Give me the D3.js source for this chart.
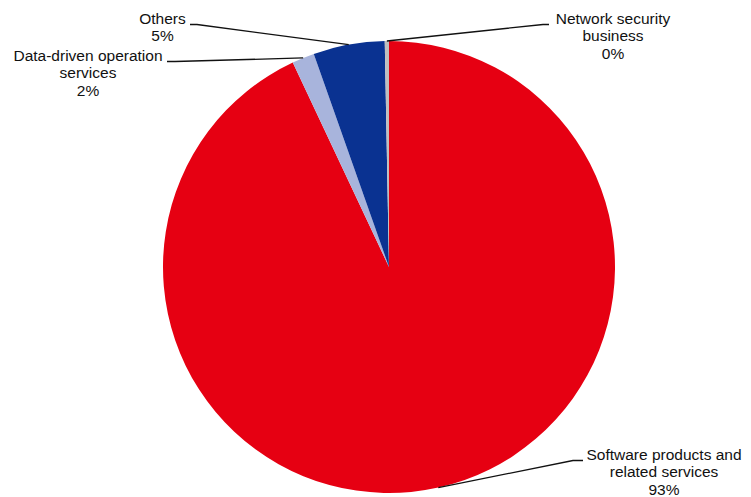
<!DOCTYPE html>
<html>
<head>
<meta charset="utf-8">
<script src="https://cdn.jsdelivr.net/npm/d3@7"></script>
<style>
  html, body { margin: 0; padding: 0; background: #fff; }
  svg { display: block; }
  text { font-family: "Liberation Sans", Arial, sans-serif; font-size: 15.5px; fill: #111; }
</style>
</head>
<body>
<svg id="chart" width="751" height="497"></svg>
<script>
// ---- data ----
const categories = ["Software products and related services", "Data-driven operation services", "Others", "Network security business"];
const values = [93.0, 1.6, 5.1, 0.3];
const labelLines = [
  ["Software products and", "related services"],
  ["Data-driven operation", "services"],
  ["Others"],
  ["Network security", "business"]
];
const colors = ["#E60012", "#A8B4DC", "#0A3291", "#BFBFBF"];

// ---- layout ----
const W = 751, H = 497;
const cx = 389, cy = 267, R = 226;
const lineH = 17.4;
// label anchor (text center x, first baseline y) and leader-line elbow
const labelLayout = [
  { x: 664, y: 460, lx: 583, elbow: 573 },
  { x: 88,  y: 61,  lx: 167, elbow: 175 },
  { x: 162.5, y: 24, lx: 190, elbow: 197 },
  { x: 613, y: 24,  lx: 549, elbow: 543 }
];

const svg = d3.select("#chart");
const total = d3.sum(values);
const fmt = d3.format(".0%");

const data = categories.map((c, i) => ({ name: c, value: values[i], lines: labelLines[i], color: colors[i], i }));
const pie = d3.pie().sort(null).value(d => d.value);
const arcs = pie(data);
const arc = d3.arc().innerRadius(0).outerRadius(R);

const g = svg.append("g").attr("transform", `translate(${cx},${cy})`);
g.selectAll("path.slice").data(arcs).join("path")
  .attr("class", "slice")
  .attr("d", arc)
  .attr("fill", d => d.data.color);

// leader lines
const edgePoint = d => {
  const a = (d.startAngle + d.endAngle) / 2;
  return [cx + R * Math.sin(a), cy - R * Math.cos(a)];
};
svg.selectAll("polyline.leader").data(arcs).join("polyline")
  .attr("class", "leader")
  .attr("fill", "none")
  .attr("stroke", "#111")
  .attr("stroke-width", 1.3)
  .attr("points", d => {
    const L = labelLayout[d.data.i];
    const p = edgePoint(d);
    const yLine = L.y + 0.5;
    return [[L.lx, yLine], [L.elbow, yLine], p].map(q => q.join(",")).join(" ");
  });

// labels
arcs.forEach(d => {
  const L = labelLayout[d.data.i];
  const t = svg.append("text").attr("text-anchor", "middle");
  const lines = d.data.lines.concat([fmt(d.data.value / total)]);
  lines.forEach((s, k) => {
    t.append("tspan").attr("x", L.x).attr("y", L.y + k * lineH).text(s);
  });
});
</script>
</body>
</html>
